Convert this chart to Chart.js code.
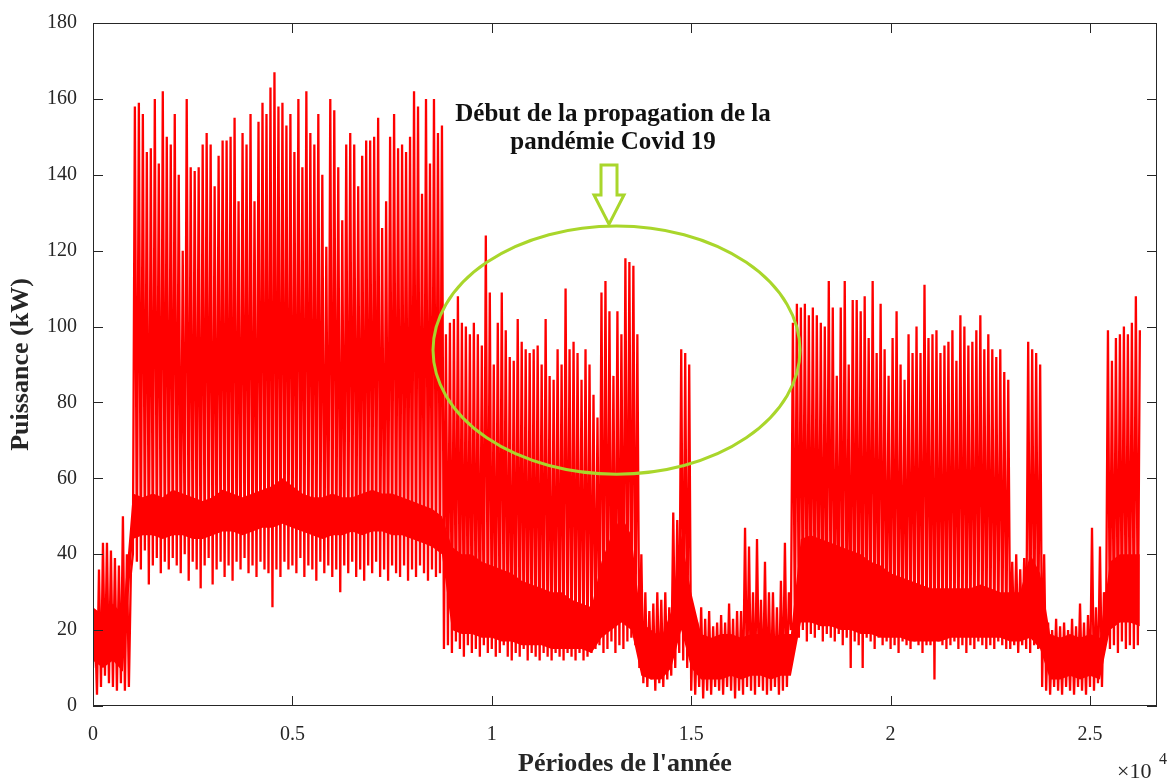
<!DOCTYPE html>
<html>
<head>
<meta charset="utf-8">
<script src="https://cdn.jsdelivr.net/npm/chart.js@4.4.0/dist/chart.umd.min.js"></script>
<style>
  html, body { margin: 0; background: #fff; }
  #wrap { width: 1172px; height: 781px; }
</style>
</head>
<body>
<div id="wrap"><canvas id="c" width="1172" height="781"></canvas></div>
<script>
// pics journaliers échantillonnés tous les 100 pas de temps
const STEP = 100;
const peaks = [
  22, 36, 43, 43, 41, 39, 37, 50, 40, 35,
  158, 159, 156, 146, 147, 160, 143, 162, 150, 148,
  156, 140, 120, 160, 142, 141, 142, 148, 151, 148,
  137, 145, 149, 149, 150, 155, 133, 151, 148, 156,
  133, 154, 159, 156, 163, 167, 158, 159, 153, 156,
  146, 160, 142, 162, 151, 148, 156, 140, 121, 160,
  157, 142, 128, 148, 151, 148, 137, 145, 149, 149,
  150, 155, 126, 133, 150, 156, 147, 148, 146, 150,
  162, 158, 135, 160, 143, 160, 151, 153,
  98, 101, 102, 108, 101, 100, 98, 101, 98, 95, 124, 109,
  90, 101, 109, 99, 92, 91, 102, 96, 94, 93,
  94, 95, 90, 102, 87, 86, 94, 90, 110, 94,
  96, 93, 86, 94, 90, 82, 76, 109, 112, 104,
  87, 104, 98, 118, 117, 116, 98, 40,
  30, 25, 27, 30, 28, 30, 26, 51, 49, 94, 93, 90,
  24, 22, 26, 23, 25, 21, 22, 24, 22, 27,
  23, 25, 25, 47, 42, 30, 44, 28, 38, 30,
  30, 26, 33, 43, 30,
  101, 106, 105, 106, 103, 105, 103, 101, 100, 112,
  105, 87, 105, 112, 90, 107, 107, 104, 108, 97,
  112, 93, 106, 94, 87, 97, 104, 90, 86, 98,
  93, 100, 93, 111, 97, 98, 99, 93, 95, 96,
  99, 91, 103, 100, 95, 96, 99, 103, 94, 98,
  94, 92, 94, 88, 86,
  38, 40, 36, 39, 96, 94, 93, 90,
  40, 22, 20, 23, 21, 22, 20, 23, 21, 27, 22, 24, 47, 26, 42, 30,
  99, 91, 97, 98, 100, 98, 101, 108, 99
];
const dips = [
  10, 3, 5, 8, 6, 5, 4, 6, 4, 5,
  40, 38, 36, 41, 32, 37, 39, 35, 38, 36,
  39, 37, 35, 40, 33, 38, 36, 31, 37, 39,
  32, 36, 38, 34, 37, 33, 38, 36, 39, 35,
  37, 34, 38, 36, 35, 26, 36, 34, 38, 36,
  37, 35, 39, 34, 37, 36, 33, 38, 35, 37,
  34, 36, 30, 37, 35, 38, 34, 36, 33, 37,
  35, 38, 34, 36, 33, 37, 35, 34, 37, 33,
  36, 34, 37, 35, 33, 36, 34, 35,
  15, 16, 14, 17, 15, 13, 16, 14, 15, 13, 16, 14,
  15, 13, 14, 16, 13, 12, 14, 13, 15, 12,
  14, 13, 12, 14, 13, 12, 14, 13, 12, 14,
  13, 12, 14, 12, 13, 14, 15, 16, 14, 15,
  17, 14, 16, 15, 17, 18, 16, 10,
  6, 5, 7, 4, 6, 5, 7, 8, 10, 14, 12, 10,
  4, 3, 5, 2, 4, 3, 5, 4, 3, 5,
  4, 2, 4, 3, 5, 4, 3, 5, 4, 3,
  4, 5, 3, 4, 5,
  20, 19, 18, 20, 17, 19, 18, 20, 17, 19,
  18, 17, 19, 16, 18, 10, 17, 16, 10, 18,
  17, 15, 18, 16, 17, 15, 16, 14, 17, 16,
  15, 17, 16, 14, 16, 16, 7, 17, 16, 15,
  16, 17, 15, 16, 14, 16, 15, 17, 16, 15,
  16, 15, 17, 16, 15,
  15, 16, 14, 16, 15, 14, 16, 15,
  5, 4, 3, 5, 4, 3, 5, 4, 3, 5, 4, 3, 5, 4, 6, 5,
  17, 15, 16, 14, 17, 15, 16, 15, 16
];

// bande dense (charge de base) tous les 250 pas
const BAND_STEP = 250;
const bandLow = [
  12, 10, 12, 9,
  44, 45, 45, 44, 45, 45, 44, 44, 45, 46,
  46, 45, 46, 47, 47, 48, 47, 46, 45, 44,
  45, 45, 46, 45, 46, 46, 45, 45, 44, 43,
  42, 40,
  20, 19, 19, 18, 18, 17, 17, 16, 16, 16, 15, 15, 15, 15, 14,
  18, 20, 22, 20,
  8, 7, 7, 10,
  20, 10,
  7, 7, 7, 8, 7, 8, 8, 7, 8, 8,
  22, 22, 21, 21, 20, 20, 19, 19, 18, 18, 18, 17, 17, 17, 17, 18, 18, 18, 18, 18, 18, 17,
  17,
  18, 15,
  7, 7, 8, 7, 8, 7,
  20, 22, 22, 21
];
const bandHigh = [
  26, 24, 27, 24,
  56, 55, 56, 55, 57, 56, 55, 54, 55, 57,
  56, 55, 56, 57, 58, 60, 58, 56, 55, 55,
  56, 55, 55, 56, 57, 56, 56, 55, 54, 53,
  52, 50,
  42, 40, 40, 38, 37, 36, 35, 33, 32, 31, 30, 30, 28, 27, 26,
  38, 45, 50, 45,
  22, 20, 18, 25,
  45, 30,
  19, 18, 19, 19, 18, 19, 19, 18, 19, 19,
  44, 45, 44, 43, 42, 41, 40, 38, 37, 35, 34, 33, 32, 31, 31, 31, 31, 31, 32, 31, 30, 30,
  30,
  40, 35,
  19, 18, 19, 18, 19, 18,
  38, 40, 40, 40
];

const xTicks = [0, 5000, 10000, 15000, 20000, 25000];
const yTicks = [0, 20, 40, 60, 80, 100, 120, 140, 160, 180];
const X_MAX = 26680;

const RED = '#ff0000';
const AXIS = '#262626';
const GREEN = '#a9d62b';
const SERIF = '"Liberation Serif", "Times New Roman", serif';

const spikePts = [];
peaks.forEach((p, i) => {
  spikePts.push({ x: i * STEP, y: dips[i] });
  spikePts.push({ x: i * STEP + STEP / 2, y: p });
});
const lowPts = bandLow.map((v, k) => ({ x: k * BAND_STEP, y: v }));
const highPts = bandHigh.map((v, k) => ({ x: k * BAND_STEP, y: v }));

// cadre façon matlab + annotations
const frame = {
  id: 'frame',
  afterDraw(chart) {
    const { ctx, chartArea: a, scales: { x, y } } = chart;
    ctx.save();
    ctx.strokeStyle = AXIS;
    ctx.lineWidth = 1;
    ctx.strokeRect(a.left + 0.5, a.top + 0.5, a.right - a.left - 1, a.bottom - a.top - 1);
    ctx.beginPath();
    xTicks.forEach(v => {
      const px = Math.round(x.getPixelForValue(v)) + 0.5;
      ctx.moveTo(px, a.bottom); ctx.lineTo(px, a.bottom - 10);
      ctx.moveTo(px, a.top); ctx.lineTo(px, a.top + 10);
    });
    yTicks.forEach(v => {
      const py = Math.round(y.getPixelForValue(v)) + 0.5;
      ctx.moveTo(a.left, py); ctx.lineTo(a.left + 10, py);
      ctx.moveTo(a.right, py); ctx.lineTo(a.right - 10, py);
    });
    ctx.stroke();

    // x10^4
    ctx.fillStyle = AXIS;
    ctx.font = '22px ' + SERIF;
    ctx.textAlign = 'left';
    ctx.textBaseline = 'alphabetic';
    ctx.fillText('\u00d710', a.right - 40, 778);
    ctx.font = '16px ' + SERIF;
    ctx.fillText('4', a.right + 2, 764);

    // ellipse verte
    const cx = x.getPixelForValue(13127), cy = y.getPixelForValue(93.8);
    const rx = x.getPixelForValue(13127 + 4601) - cx;
    const ry = cy - y.getPixelForValue(93.8 + 32.7);
    ctx.strokeStyle = GREEN;
    ctx.lineWidth = 3;
    ctx.beginPath();
    ctx.ellipse(cx, cy, rx, ry, 0, 0, Math.PI * 2);
    ctx.stroke();

    // flèche creuse
    const ax = x.getPixelForValue(12939);
    const tip = y.getPixelForValue(127);
    const top = y.getPixelForValue(142.6);
    const base = y.getPixelForValue(134.7);
    ctx.beginPath();
    ctx.moveTo(ax - 8, top);
    ctx.lineTo(ax + 8, top);
    ctx.lineTo(ax + 8, base);
    ctx.lineTo(ax + 15, base);
    ctx.lineTo(ax, tip);
    ctx.lineTo(ax - 15, base);
    ctx.lineTo(ax - 8, base);
    ctx.closePath();
    ctx.lineJoin = 'miter';
    ctx.stroke();

    // texte
    const tx = x.getPixelForValue(13040);
    ctx.fillStyle = '#111';
    ctx.textAlign = 'center';
    ctx.textBaseline = 'middle';
    ctx.font = 'bold 25px ' + SERIF;
    ctx.fillText('Début de la propagation de la', tx, y.getPixelForValue(155.8));
    ctx.fillText('pandémie Covid 19', tx, y.getPixelForValue(148.4));
    ctx.restore();
  }
};

new Chart(document.getElementById('c'), {
  type: 'line',
  data: {
    datasets: [
      {
        data: lowPts,
        borderWidth: 0,
        borderColor: 'rgba(0,0,0,0)',
        pointRadius: 0,
        fill: false
      },
      {
        data: highPts,
        borderWidth: 0,
        borderColor: 'rgba(0,0,0,0)',
        backgroundColor: RED,
        pointRadius: 0,
        fill: '-1'
      },
      {
        data: spikePts,
        borderColor: RED,
        borderWidth: 2.3,
        pointRadius: 0,
        tension: 0,
        fill: false
      }
    ]
  },
  options: {
    responsive: false,
    animation: false,
    devicePixelRatio: 1,
    layout: { padding: { top: 23, right: 15, left: 0, bottom: 0 } },
    plugins: { legend: { display: false }, tooltip: { enabled: false } },
    scales: {
      x: {
        type: 'linear',
        min: 0,
        max: X_MAX,
        offset: false,
        grid: { display: false },
        border: { display: false },
        afterBuildTicks: s => { s.ticks = xTicks.map(v => ({ value: v })); },
        afterFit: s => { s.height = 75; },
        ticks: {
          padding: 9,
          color: AXIS,
          font: { family: SERIF, size: 20 },
          maxRotation: 0,
          callback: v => String(v / 10000)
        },
        title: {
          display: true,
          text: 'Périodes de l\'année',
          color: AXIS,
          font: { family: SERIF, size: 26, weight: 'bold' },
          padding: { top: 0, bottom: 1 }
        }
      },
      y: {
        min: 0,
        max: 180,
        grid: { display: false },
        border: { display: false },
        afterBuildTicks: s => { s.ticks = yTicks.map(v => ({ value: v })); },
        afterFit: s => { s.width = 93; },
        ticks: {
          padding: 8,
          color: AXIS,
          font: { family: SERIF, size: 20 }
        },
        title: {
          display: true,
          text: 'Puissance (kW)',
          color: AXIS,
          font: { family: SERIF, size: 26, weight: 'bold' },
          padding: { top: 6, bottom: 0 }
        }
      }
    }
  },
  plugins: [frame]
});
</script>
</body>
</html>
